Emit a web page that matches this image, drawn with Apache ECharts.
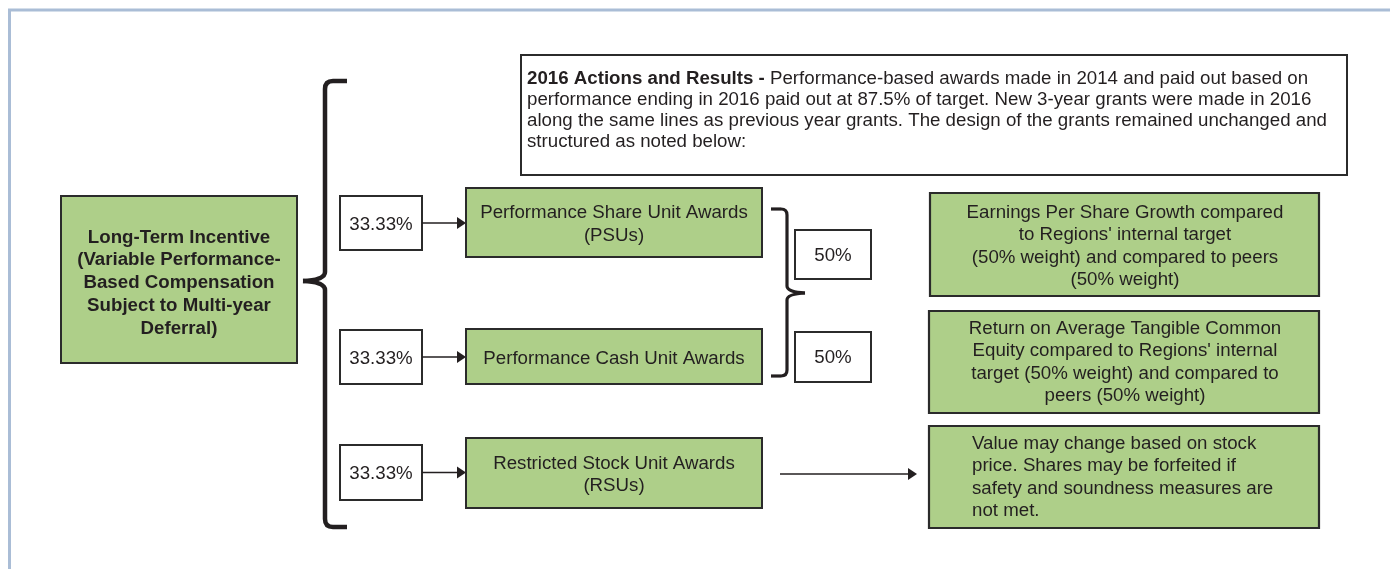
<!DOCTYPE html>
<html><head><meta charset="utf-8">
<script src="https://cdn.jsdelivr.net/npm/echarts@6/dist/echarts.min.js"></script>
<style>html,body{margin:0;padding:0;background:#fff}#c{width:1390px;height:569px}</style>
</head><body><div id="c"></div>
<script>
// ---- data (texts) ----
var headerBold = '2016 Actions and Results - ';
var headerLines = [
  'Performance-based awards made in 2014 and paid out based on',
  'performance ending in 2016 paid out at 87.5% of target. New 3-year grants were made in 2016',
  'along the same lines as previous year grants. The design of the grants remained unchanged and',
  'structured as noted below:'
];
var rootLabel = ['Long-Term Incentive', '(Variable Performance-', 'Based Compensation', 'Subject to Multi-year', 'Deferral)'];
var awardShares = ['33.33%', '33.33%', '33.33%'];
var awardNames = [['Performance Share Unit Awards', '(PSUs)'], ['Performance Cash Unit Awards'], ['Restricted Stock Unit Awards', '(RSUs)']];
var perfSplit = ['50%', '50%'];
var metrics = [
  ['Earnings Per Share Growth compared', 'to Regions\' internal target', '(50% weight) and compared to peers', '(50% weight)'],
  ['Return on Average Tangible Common', 'Equity compared to Regions\' internal', 'target (50% weight) and compared to', 'peers (50% weight)'],
  ['Value may change based on stock', 'price. Shares may be forfeited if', 'safety and soundness measures are', 'not met.']
];

// ---- layout ----
var GREEN = '#aecf89', INK = '#231f20', FONT = '"Liberation Sans", Arial, sans-serif';
var FS = 18.7;
var g = [];
function rect(x, y, w, h, fill, lw) {
  g.push({type: 'rect', shape: {x: x, y: y, width: w, height: h},
    style: {fill: fill, stroke: '#2b2b2b', lineWidth: lw || 2}});
}
function label(x, y, lines, opt) {
  opt = opt || {};
  g.push({type: 'text', x: x, y: y, style: {
    text: lines.join('\n'), font: (opt.bold ? 'bold ' : '') + FS + 'px ' + FONT,
    fill: '#231f20', align: opt.align || 'center', verticalAlign: 'middle',
    lineHeight: opt.lh || 22.5}});
}
function arrow(x1, x2, y) {
  g.push({type: 'line', shape: {x1: x1, y1: y, x2: x2 - 7, y2: y}, style: {stroke: INK, lineWidth: 1.6}});
  g.push({type: 'polygon', shape: {points: [[x2 - 9, y - 6], [x2, y], [x2 - 9, y + 6]]}, style: {fill: INK}});
}
function poly(pts, lw) {
  g.push({type: 'polyline', shape: {points: pts}, style: {stroke: INK, lineWidth: lw, fill: null, lineJoin: 'round', lineCap: 'butt'}});
}
function curve(x1, y1, cx, cy, x2, y2, lw) {
  g.push({type: 'bezierCurve', shape: {x1: x1, y1: y1, cpx1: cx, cpy1: cy, x2: x2, y2: y2}, style: {stroke: INK, lineWidth: lw, fill: null}});
}

// frame
g.push({type: 'line', shape: {x1: 8, y1: 10, x2: 1390, y2: 10}, style: {stroke: '#aabdd6', lineWidth: 3}});
g.push({type: 'line', shape: {x1: 9.5, y1: 9, x2: 9.5, y2: 569}, style: {stroke: '#aabdd6', lineWidth: 3}});

// header box
rect(521, 55, 826, 120, '#fff', 2);
g.push({type: 'text', x: 527, y: 79, style: {
  text: '{b|' + headerBold + '}' + headerLines[0], font: FS + 'px ' + FONT, fill: '#231f20',
  verticalAlign: 'middle',
  rich: {b: {font: 'bold ' + FS + 'px ' + FONT, fill: '#231f20'}}}});
for (var i = 1; i < headerLines.length; i++) {
  g.push({type: 'text', x: 527, y: 79 + 21 * i, style: {
    text: headerLines[i], font: FS + 'px ' + FONT, fill: '#231f20', verticalAlign: 'middle'}});
}

// root box
rect(61, 196, 236, 167, GREEN, 2);
label(179, 283, rootLabel, {bold: true, lh: 22.8});

// big brace
var LW1 = 4.5;
poly([[347, 81], [333, 81]], LW1);
curve(333, 81, 325, 81, 325, 89, LW1);
poly([[325, 89], [325, 272]], LW1);
curve(325, 272, 325, 280, 303, 281, LW1);
curve(303, 281, 325, 282, 325, 290, LW1);
poly([[325, 290], [325, 519]], LW1);
curve(325, 519, 325, 527, 333, 527, LW1);
poly([[333, 527], [347, 527]], LW1);

// award rows
var rowY = [[196, 250, 188, 257], [330, 384, 329, 384], [445, 500, 438, 508]];
for (var r = 0; r < 3; r++) {
  var ry = rowY[r];
  rect(340, ry[0], 82, ry[1] - ry[0], '#fff', 2);
  label(381, (ry[0] + ry[1]) / 2 + 1.5, [awardShares[r]]);
  var cy = (ry[2] + ry[3]) / 2;
  arrow(422, 466, (ry[0] + ry[1]) / 2);
  rect(466, ry[2], 296, ry[3] - ry[2], GREEN, 2);
  label(614, cy + 2, awardNames[r], {lh: 22.5});
}

// small brace
var LW2 = 3.2;
poly([[771, 209], [781, 209]], LW2);
curve(781, 209, 787, 209, 787, 215, LW2);
poly([[787, 215], [787, 286]], LW2);
curve(787, 286, 787, 292, 805, 293, LW2);
curve(805, 293, 787, 294, 787, 300, LW2);
poly([[787, 300], [787, 370]], LW2);
curve(787, 370, 787, 376, 781, 376, LW2);
poly([[781, 376], [771, 376]], LW2);
rect(795, 230, 76, 49, '#fff', 2);
label(833, 256, [perfSplit[0]]);
rect(795, 332, 76, 50, '#fff', 2);
label(833, 358, [perfSplit[1]]);

// metric boxes
rect(930, 193, 389, 103, GREEN, 2.2);
label(1125, 246.5, metrics[0]);
rect(929, 311, 390, 102, GREEN, 2.2);
label(1125, 362.5, metrics[1]);
arrow(780, 917, 474);
rect(929, 426, 390, 102, GREEN, 2.2);
label(972, 477.5, metrics[2], {align: 'left'});

var chart = echarts.init(document.getElementById('c'), null, {renderer: 'canvas'});
chart.setOption({animation: false, graphic: {elements: g}});
</script></body></html>
